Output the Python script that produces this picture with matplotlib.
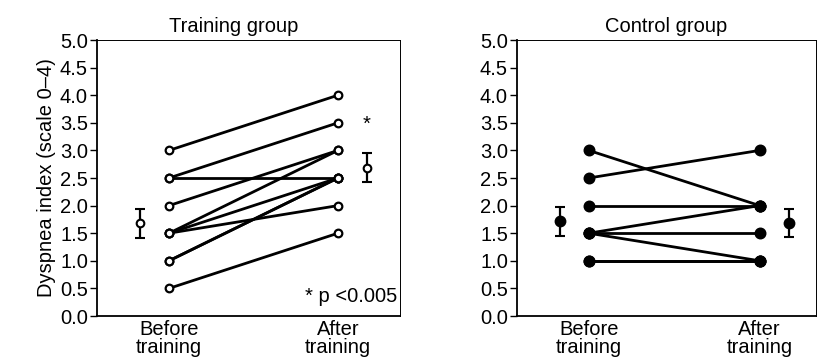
import numpy as np
import matplotlib.pyplot as plt

# paired subject scores (before, after)
train_before = [3.0, 2.5, 2.5, 2.0, 1.5, 1.5, 1.5, 1.0, 1.0, 0.5]
train_after = [4.0, 3.5, 2.5, 3.0, 3.0, 2.5, 2.0, 2.5, 2.5, 1.5]
ctrl_before = [3.0, 2.5, 2.0, 1.5, 1.5, 1.5, 1.0, 1.0]
ctrl_after = [2.0, 3.0, 2.0, 2.0, 1.5, 1.0, 1.0, 1.0]

# group means with error bars (lower, upper)
train_mean = [1.68, 2.68]
train_err = [[0.26, 0.26], [0.25, 0.27]]
ctrl_mean = [1.72, 1.68]
ctrl_err = [[0.27, 0.26], [0.25, 0.25]]

xlabels = ["Before\ntraining", "After\ntraining"]
yticks = np.arange(0, 5.01, 0.5)

plt.rcParams['font.family'] = ['Liberation Sans', 'DejaVu Sans']
fig = plt.figure(figsize=(8.17, 3.64), dpi=100)
ax1 = fig.add_axes([97/817, 1-316/364, 303/817, 276/364])
ax2 = fig.add_axes([517/817, 1-316/364, 299/817, 276/364])
FS = 14.5


def panel(ax, before, after, mean, err, filled, xlim, title, tx):
    ms = 7 if filled else 5.5
    for b, a in zip(before, after):
        ax.plot([1, 2], [b, a], color='black', lw=2, zorder=2,
                marker='o', ms=ms, mew=1.6,
                mfc='black' if filled else 'white', mec='black')
    ax.errorbar([0.83, 2.17], mean, yerr=np.array(err).T, fmt='o', color='black',
                ms=ms, mew=1.5, mfc='black' if filled else 'white',
                elinewidth=1.6, capsize=3.5, capthick=1.6)
    ax.set_xlim(*xlim)
    ax.set_ylim(0, 5)
    ax.set_yticks(yticks)
    ax.set_yticklabels([f"{v:.1f}" for v in yticks], fontsize=FS)
    ax.set_xticks([1, 2])
    ax.set_xticklabels(xlabels, fontsize=FS, linespacing=0.9)
    ax.tick_params(axis='x', length=0, pad=3)
    ax.tick_params(axis='y', length=5, width=1, pad=1.5)
    ax.spines['left'].set_linewidth(1.3)
    ax.spines['bottom'].set_linewidth(1.3)
    ax.spines['top'].set_linewidth(0.7)
    ax.spines['right'].set_linewidth(0.7)
    ax.text(tx, 1.015, title, transform=ax.transAxes, ha='center', va='bottom',
            fontsize=FS)


panel(ax1, train_before, train_after, train_mean, train_err, False,
      (0.574, 2.367), "Training group", 0.45)
panel(ax2, ctrl_before, ctrl_after, ctrl_mean, ctrl_err, True,
      (0.58, 2.33), "Control group", 0.5)

ax1.set_ylabel("Dyspnea index (scale 0–4)", fontsize=FS, labelpad=3)
ax1.text(2.17, 3.3, "*", ha='center', va='bottom', fontsize=FS)
ax1.text(0.99, 0.035, "* p <0.005", transform=ax1.transAxes, ha='right',
         va='bottom', fontsize=FS)

fig.savefig("out.png", dpi=100)
